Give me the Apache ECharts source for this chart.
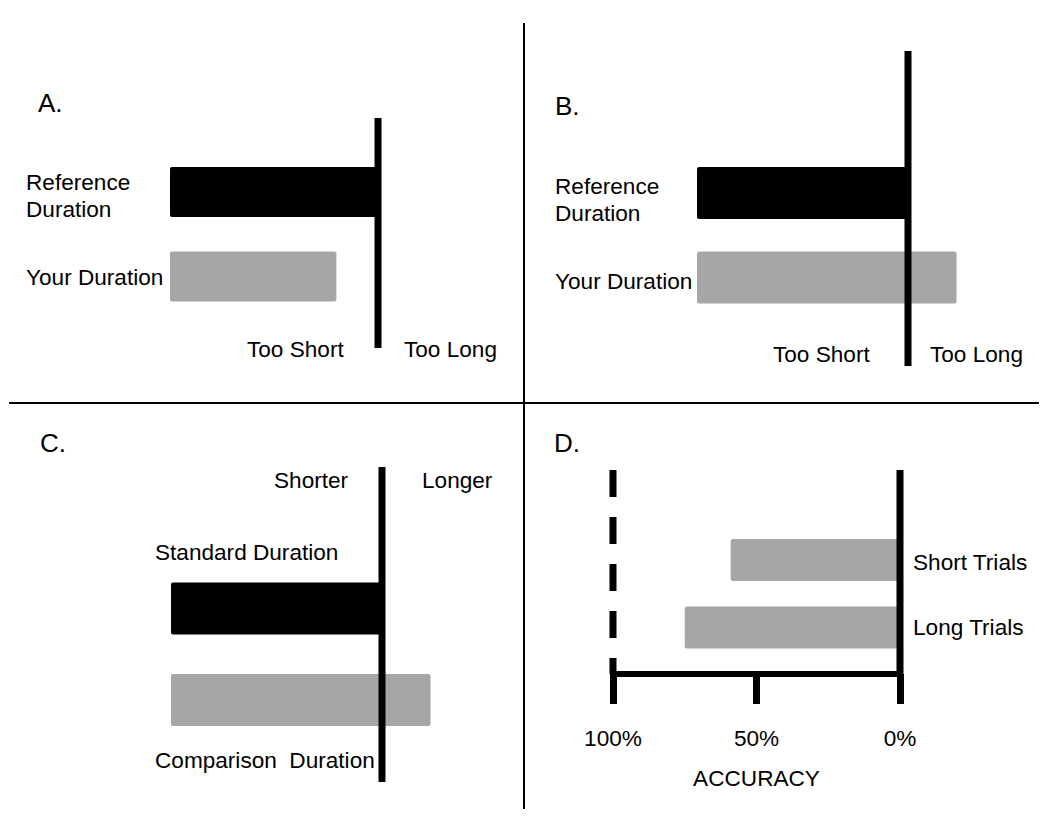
<!DOCTYPE html>
<html>
<head>
<meta charset="utf-8">
<script src="https://cdn.jsdelivr.net/npm/echarts@6/dist/echarts.min.js"></script>
<style>
  html, body { margin: 0; padding: 0; background: #fff; }
  #chart { width: 1050px; height: 836px; }
</style>
</head>
<body>
<div id="chart"></div>
<script>
// Panels A-C: durations relative to the reference/standard (= 1)
const labelsA = ['Reference\nDuration', 'Your Duration'];
const valuesA = [1.0, 0.8];
const criterionA = 1.0;

const labelsB = ['Reference\nDuration', 'Your Duration'];
const valuesB = [1.0, 1.23];
const criterionB = 1.0;

const labelsC = ['Standard Duration', 'Comparison  Duration'];
const valuesC = [1.0, 1.23];
const criterionC = 1.0;

// Panel D: accuracy in percent
const labelsD = ['Short Trials', 'Long Trials'];
const valuesD = [59, 75];
const accuracyTicks = [0, 50, 100];
const accuracyRefLines = [0, 100];

const FONT = '"Liberation Sans", Arial, Helvetica, sans-serif';
const FS = 22.6;
const BLACK = '#000000';
const GRAY = '#a6a6a6';

// layout of each panel (pixels / axis ranges)
const panels = [
  { grid: { left: 170, top: 118, width: 312, height: 230 }, x: [0, 1.5], y: [-0.876, 1.846],
    barH: 50, colors: [BLACK, GRAY], dx: -144, dy: [3.5, 0.5] },
  { grid: { left: 697, top: 51, width: 316.5, height: 315 }, x: [0, 1.5], y: [-1.68, 2.048],
    barH: 52, colors: [BLACK, GRAY], dx: -142, dy: [7, 4.5] },
  { grid: { left: 171, top: 467, width: 316.5, height: 315 }, x: [0, 1.5], y: [-1.546, 1.897],
    barH: 52, colors: [BLACK, GRAY], dx: -16, dy: [-55.5, 61] },
  { grid: { left: 613, top: 470, width: 287, height: 204 }, x: [0, 100], y: [-1.333, 1.689],
    barH: 42, colors: [GRAY, GRAY], dx: 13, dy: [3, 0] }
];

const barData = [
  { labels: labelsA, values: valuesA },
  { labels: labelsB, values: valuesB },
  { labels: labelsC, values: valuesC },
  { labels: labelsD, values: valuesD }
];

const chart = echarts.init(document.getElementById('chart'), null, { renderer: 'svg' });

const grids = panels.map(p => Object.assign({ outerBoundsMode: 'none', containLabel: false }, p.grid));

const xAxes = panels.map((p, i) => {
  if (i < 3) {
    return { type: 'value', gridIndex: i, min: p.x[0], max: p.x[1], show: false };
  }
  return {
    type: 'value', gridIndex: i, min: p.x[0], max: p.x[1], interval: 50, inverse: true,
    position: 'bottom',
    axisLine: { show: true, onZero: false, lineStyle: { color: BLACK, width: 6 } },
    axisTick: { show: true, inside: false, length: 30, lineStyle: { color: BLACK, width: 7 } },
    splitLine: { show: false },
    axisLabel: {
      color: BLACK, fontSize: FS, fontFamily: FONT, margin: 53,
      formatter: v => accuracyTicks.includes(v) ? v + '%' : ''
    },
    name: 'ACCURACY', nameLocation: 'middle', nameGap: 93,
    nameTextStyle: { color: BLACK, fontSize: FS, fontFamily: FONT }
  };
});

const yAxes = panels.map((p, i) => ({
  type: 'value', gridIndex: i, min: p.y[0], max: p.y[1], inverse: true, show: false
}));

const series = [];

panels.forEach((p, i) => {
  const d = barData[i];
  series.push({
    type: 'custom',
    xAxisIndex: i, yAxisIndex: i,
    z: 2,
    silent: true,
    encode: { x: [0, 1], y: 2 },
    data: d.values.map((v, r) => [0, v, r]),
    renderItem: (params, api) => {
      const r = params.dataIndex;
      const a = api.coord([api.value(0), api.value(2)]);
      const b = api.coord([api.value(1), api.value(2)]);
      return {
        type: 'group',
        children: [
          {
            type: 'rect',
            shape: { x: Math.min(a[0], b[0]), y: a[1] - p.barH / 2, width: Math.abs(b[0] - a[0]), height: p.barH, r: 2 },
            style: { fill: p.colors[r] }
          },
          {
            type: 'text',
            x: a[0] + p.dx, y: a[1] + p.dy[r],
            style: {
              text: d.labels[r], fill: BLACK, font: FS + 'px ' + FONT,
              align: 'left', verticalAlign: 'middle', lineHeight: 27
            }
          }
        ]
      };
    }
  });
});

// criterion lines
[criterionA, criterionB, criterionC].forEach((c, i) => {
  const p = panels[i];
  series.push({
    type: 'line', xAxisIndex: i, yAxisIndex: i, z: 3, silent: true,
    symbol: 'none', clip: false,
    lineStyle: { color: BLACK, width: 7, cap: 'butt' },
    data: [[c, p.y[0]], [c, p.y[1]]]
  });
});

accuracyRefLines.forEach(c => {
  const p = panels[3];
  series.push({
    type: 'line', xAxisIndex: 3, yAxisIndex: 3, z: 3, silent: true,
    symbol: 'none', clip: false,
    lineStyle: { color: BLACK, width: 7, cap: 'butt', type: c === 100 ? [27, 20] : 'solid' },
    data: [[c, p.y[0]], [c, p.y[1]]]
  });
});

function txt(text, x, y, size) {
  return {
    type: 'text', x: x, y: y, silent: true,
    style: { text: text, fill: BLACK, font: (size || FS) + 'px ' + FONT, align: 'left', verticalAlign: 'middle' }
  };
}

const graphic = [
  { type: 'line', shape: { x1: 524, y1: 23, x2: 524, y2: 809 }, style: { stroke: BLACK, lineWidth: 2 }, silent: true },
  { type: 'line', shape: { x1: 9, y1: 403, x2: 1039, y2: 403 }, style: { stroke: BLACK, lineWidth: 2 }, silent: true },
  txt('A.', 38, 103, 26),
  txt('B.', 555, 106, 26),
  txt('C.', 40, 443, 26),
  txt('D.', 554, 443, 26),
  txt('Too Short', 247, 349),
  txt('Too Long', 404, 349),
  txt('Too Short', 773, 354),
  txt('Too Long', 930, 354),
  txt('Shorter', 274, 480),
  txt('Longer', 422, 480)
];

chart.setOption({
  animation: false,
  backgroundColor: '#ffffff',
  textStyle: { fontFamily: FONT },
  grid: grids,
  xAxis: xAxes,
  yAxis: yAxes,
  series: series,
  graphic: graphic
});

window.addEventListener('resize', () => chart.resize());
</script>
</body>
</html>
